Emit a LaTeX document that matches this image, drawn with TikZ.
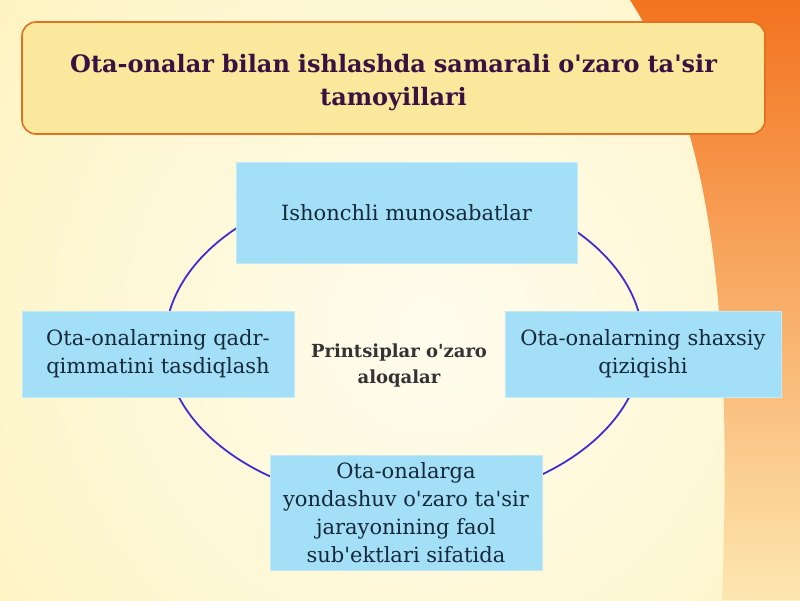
\documentclass[tikz,border=0pt]{standalone}
\usepackage{fontspec}
\setmainfont{DejaVu Serif}[Ligatures=TeXOff]
\usetikzlibrary{positioning,calc}

\definecolor{titlefill}{HTML}{FAE99C}
\definecolor{titleedge}{HTML}{E27222}
\definecolor{titletext}{HTML}{3A1242}
\definecolor{boxfill}{HTML}{A3E0F8}
\definecolor{boxedge}{HTML}{C2E9F8}
\definecolor{boxtext}{HTML}{16283A}
\definecolor{ringblue}{HTML}{3E2ED2}
\definecolor{cream}{HTML}{FFFCEE}
\definecolor{paleglow}{HTML}{FEF5C8}
\definecolor{glow}{HTML}{FCEDA6}
\definecolor{orangeA}{HTML}{F3731F}
\definecolor{orangeB}{HTML}{F79A44}
\definecolor{peach}{HTML}{FDE7B0}

\pgfdeclareradialshading{glowring}{\pgfpoint{0bp}{0bp}}{color(0bp)=(cream); color(20bp)=(paleglow); color(29bp)=(glow); color(36bp)=(white); color(50bp)=(white)}

\begin{document}
\begin{tikzpicture}[x=1pt,y=-1pt,
    titlebox/.style={draw=titleedge, fill=titlefill, line width=1.6pt, rounded corners=14pt,
      minimum width=743pt, minimum height=112pt, text width=730pt, align=center, text depth=30pt,
      text=titletext, font=\fontsize{24}{33}\selectfont\bfseries},
    topicbox/.style={draw=boxedge, fill=boxfill, line width=0.8pt, align=center,
      text=boxtext, font=\fontsize{21}{28}\selectfont, inner sep=0pt},
    hubtext/.style={align=center, text=black!80, font=\fontsize{18}{26}\selectfont\bfseries},
    ring/.style={draw=ringblue, line width=1.8pt}]

   % Background
   \useasboundingbox (0,0) rectangle (800,600);
   \fill[white] (0,0) rectangle (800,600);
   \begin{scope}
      \clip (0,0) rectangle (800,600);
      \shade[shading=glowring] (430,330) circle (600);
      \clip (630,0) .. controls (700,110) and (735,260) .. (722,600) -- (800,600) -- (800,0) -- cycle;
      \shade[top color=orangeA, middle color=orangeB, bottom color=peach] (600,0) rectangle (800,600);
   \end{scope}

   % Define nodes
   \node[titlebox] (title) at (393.5,78) {Ota-onalar bilan ishlashda samarali o'zaro ta'sir\\tamoyillari};
   \coordinate (centre) at (404,343);
   \draw[ring] (centre) ellipse (239 and 161);
   \node[topicbox, minimum width=341pt, minimum height=101pt] (trust) at (406.5,212.5) {Ishonchli munosabatlar};
   \node[topicbox, minimum width=272pt, minimum height=86pt] (value) at (158,354) {Ota-onalarning qadr-\\qimmatini tasdiqlash};
   \node[topicbox, minimum width=276pt, minimum height=86pt] (interest) at (643,354) {Ota-onalarning shaxsiy\\qiziqishi};
   \node[topicbox, minimum width=272pt, minimum height=115pt] (active) at (406,512.5) {Ota-onalarga\\yondashuv o'zaro ta'sir\\jarayonining faol\\sub'ektlari sifatida};
   \node[hubtext] (hub) at (399,366) {Printsiplar o'zaro\\aloqalar};
\end{tikzpicture}
\end{document}
